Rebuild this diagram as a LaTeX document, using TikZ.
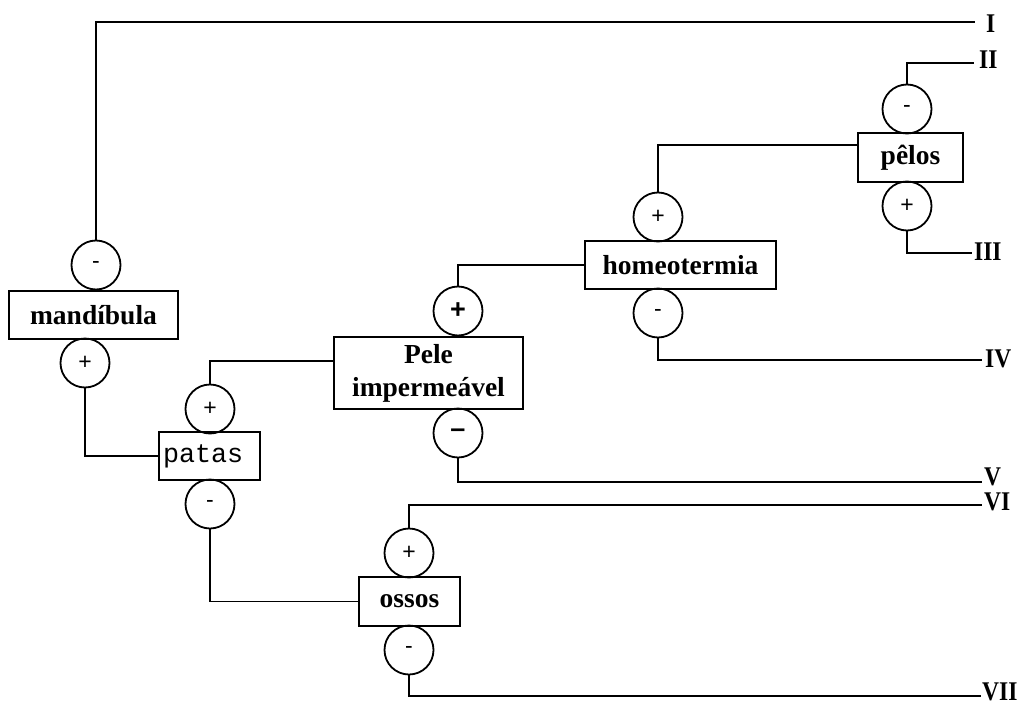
\documentclass[tikz,border=0pt]{standalone}
\usepackage{fontspec}
\usepackage{graphicx}
\setmainfont{Liberation Serif}
\setsansfont{Liberation Sans}
\setmonofont{Liberation Mono}
\usetikzlibrary{calc}
\newcommand{\romnum}[1]{\scalebox{0.87}[1]{#1}}
\tikzset{
  box/.style={draw, line width=1.8pt, rectangle, inner sep=0pt, font=\bfseries\fontsize{27.5}{33}\selectfont},
  sg/.style={draw, circle, line width=1.8pt, minimum size=49pt, inner sep=0pt, font=\sffamily\fontsize{23}{23}\selectfont},
  sgb/.style={sg, font=\sffamily\bfseries\fontsize{27}{27}\selectfont},
  lab/.style={anchor=base west, inner sep=0pt, font=\bfseries\fontsize{27}{27}\selectfont},
  con/.style={line width=1.8pt},
}
\begin{document}
\begin{tikzpicture}[x=1pt, y=-1pt]
\useasboundingbox (0,0) rectangle (1020,704);
% boxes
\node[box, minimum width=169pt, minimum height=48pt] (mand) at (93.5,315) {mandíbula};
\node[box, minimum width=101pt, minimum height=48pt, font=\ttfamily\fontsize{26.7}{30}\selectfont, text width=93pt, align=left] (patas) at (209.5,456) {patas};
\node[box, minimum width=189pt, minimum height=72pt, align=center] (pele) at (428.5,373) {Pele\\impermeável};
\node[box, minimum width=191pt, minimum height=48pt] (homeo) at (680.5,265) {homeotermia};
\node[box, minimum width=105pt, minimum height=49pt] (pelos) at (910.5,157.5) {pêlos};
\node[box, minimum width=101pt, minimum height=49pt] (ossos) at (409.5,601.5) {ossos};
% sign circles
\node[sg] (mandm) at (96,265) {-};
\node[sg] (mandp) at (85,363) {+};
\node[sg] (patp) at (210,409) {+};
\node[sg] (patm) at (210,504) {-};
\node[sgb] (pelep) at (458,311) {+};
\node[sgb] (pelem) at (458,433) {–};
\node[sg] (homp) at (658,217) {+};
\node[sg] (homm) at (658,313) {-};
\node[sg] (pelm) at (907,109) {-};
\node[sg] (pelp) at (907,206) {+};
\node[sg] (ossp) at (409,553) {+};
\node[sg] (ossm) at (409,650) {-};
% end points
\coordinate (eI) at (975,22);
\coordinate (eII) at (974,63);
\coordinate (eIII) at (972,253);
\coordinate (eIV) at (982,360);
\coordinate (eV) at (982,482);
\coordinate (eVI) at (982,505);
\coordinate (eVII) at (981,696);
% labels
\node[lab] (lI) at (986,32) {\romnum{I}};
\node[lab] (lII) at (979,68) {\romnum{II}};
\node[lab] (lIII) at (974,260) {\romnum{III}};
\node[lab] (lIV) at (985,367) {\romnum{IV}};
\node[lab] (lV) at (984,485) {\romnum{V}};
\node[lab] (lVI) at (984,510) {\romnum{VI}};
\node[lab] (lVII) at (982,700) {\romnum{VII}};
% connectors
\draw[con] (mandm.north) |- (eI);
\draw[con] (mandp.south) |- (patas.west);
\draw[con] (patp.north) |- ($(pele.north west)!1/3!(pele.south west)$);
\draw[con] (pelep.north) |- (homeo.west);
\draw[con] (pelem.south) |- (eV);
\draw[con] (homp.north) |- ($(pelos.north west)!0.25!(pelos.south west)$);
\draw[con] (homm.south) |- (eIV);
\draw[con] (pelm.north) |- (eII);
\draw[con] (pelp.south) |- (eIII);
\draw[con] (patm.south) |- (ossos.west);
\draw[con] (ossp.north) |- (eVI);
\draw[con] (ossm.south) |- (eVII);
\end{tikzpicture}
\end{document}
